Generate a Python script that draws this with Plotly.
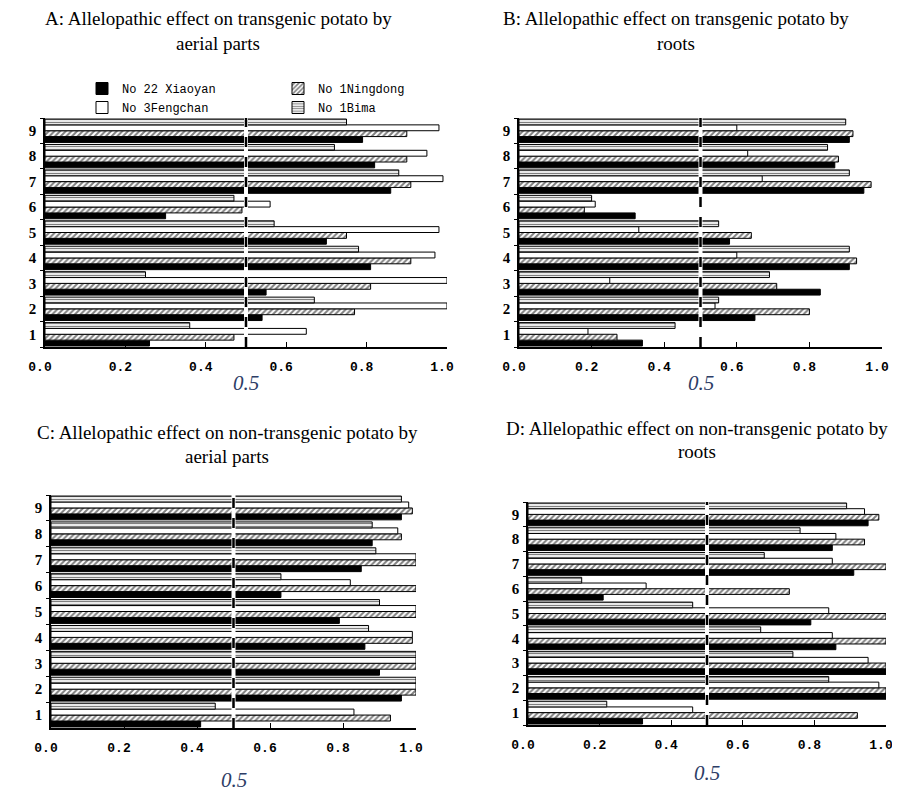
import plotly.graph_objects as go

categories = ["1", "2", "3", "4", "5", "6", "7", "8", "9"]
series_names = ["No 22 Xiaoyan", "No 1Ningdong", "No 3Fengchan", "No 1Bima"]
tick_values = [0.0, 0.2, 0.4, 0.6, 0.8, 1.0]

# Panel A: transgenic potato, aerial parts
a_xiaoyan = [0.26, 0.54, 0.55, 0.81, 0.70, 0.30, 0.86, 0.82, 0.79]
a_ningdong = [0.47, 0.77, 0.81, 0.91, 0.75, 0.49, 0.91, 0.90, 0.90]
a_fengchan = [0.65, 1.00, 1.00, 0.97, 0.98, 0.56, 0.99, 0.95, 0.98]
a_bima = [0.36, 0.67, 0.25, 0.78, 0.57, 0.47, 0.88, 0.72, 0.75]

# Panel B: transgenic potato, roots
b_xiaoyan = [0.34, 0.65, 0.83, 0.91, 0.58, 0.32, 0.95, 0.87, 0.91]
b_ningdong = [0.27, 0.80, 0.71, 0.93, 0.64, 0.18, 0.97, 0.88, 0.92]
b_fengchan = [0.19, 0.54, 0.25, 0.60, 0.33, 0.21, 0.67, 0.63, 0.60]
b_bima = [0.43, 0.55, 0.69, 0.91, 0.55, 0.20, 0.91, 0.85, 0.90]

# Panel C: non-transgenic potato, aerial parts
c_xiaoyan = [0.41, 0.96, 0.90, 0.86, 0.79, 0.63, 0.85, 0.88, 0.96]
c_ningdong = [0.93, 1.00, 1.00, 0.99, 1.00, 1.00, 1.00, 0.96, 0.99]
c_fengchan = [0.83, 1.00, 1.00, 0.99, 1.00, 0.82, 1.00, 0.95, 0.98]
c_bima = [0.45, 1.00, 1.00, 0.87, 0.90, 0.63, 0.89, 0.88, 0.96]

# Panel D: non-transgenic potato, roots
d_xiaoyan = [0.32, 1.00, 1.00, 0.86, 0.79, 0.21, 0.91, 0.85, 0.95]
d_ningdong = [0.92, 1.00, 1.00, 1.00, 1.00, 0.73, 1.00, 0.94, 0.98]
d_fengchan = [0.46, 0.98, 0.95, 0.85, 0.84, 0.33, 0.85, 0.86, 0.94]
d_bima = [0.22, 0.84, 0.74, 0.65, 0.46, 0.15, 0.66, 0.76, 0.89]

titles = [
    ("A: Allelopathic effect on transgenic potato by", "aerial parts"),
    ("B: Allelopathic effect on transgenic potato by", "roots"),
    ("C: Allelopathic effect on non-transgenic potato by", "aerial parts"),
    ("D: Allelopathic effect on non-transgenic potato by", "roots"),
]

W, H, OFF = 900, 792, 8  # page body margin shifts the figure by OFF px


def fx(px):
    return (px - OFF) / W


def fy(py):
    return 1 - (py - OFF) / H


panels = [
    dict(vals=[a_xiaoyan, a_ningdong, a_fengchan, a_bima], ax="", xd=[fx(45), fx(447)], yd=[fy(347), fy(118)]),
    dict(vals=[b_xiaoyan, b_ningdong, b_fengchan, b_bima], ax="2", xd=[fx(519), fx(882)], yd=[fy(347), fy(118)]),
    dict(vals=[c_xiaoyan, c_ningdong, c_fengchan, c_bima], ax="3", xd=[fx(51), fx(416)], yd=[fy(728), fy(495)]),
    dict(vals=[d_xiaoyan, d_ningdong, d_fengchan, d_bima], ax="4", xd=[fx(528), fx(886)], yd=[fy(725), fy(502)]),
]

styles = [
    dict(color="black", pattern=dict(shape="")),
    dict(color="white", pattern=dict(shape="/", fgcolor="black", bgcolor="white", size=4, solidity=0.5)),
    dict(color="white", pattern=dict(shape="")),
    dict(color="white", pattern=dict(shape="-", fgcolor="black", bgcolor="white", size=3, solidity=0.45)),
]
legend_of = ["legend", "legend2", "legend", "legend2"]

fig = go.Figure()
for pi, p in enumerate(panels):
    for si in range(4):
        st = styles[si]
        fig.add_trace(go.Bar(
            y=categories, x=p["vals"][si], orientation="h",
            name=series_names[si],
            marker=dict(color=st["color"], pattern=st["pattern"],
                        line=dict(color="black", width=1)),
            xaxis="x" + p["ax"], yaxis="y" + p["ax"],
            showlegend=(pi == 0), legend=legend_of[si],
        ))

legend_font = dict(family="Liberation Mono", size=12, color="black")
layout = dict(
    width=W, height=H, margin=dict(l=0, r=0, t=0, b=0, autoexpand=False),
    paper_bgcolor="white", plot_bgcolor="white",
    barmode="group", bargap=0.08, bargroupgap=0.0,
    legend=dict(x=fx(82), y=fy(74), xanchor="left", yanchor="top",
                font=legend_font, bgcolor="rgba(0,0,0,0)", tracegroupgap=0, itemwidth=30),
    legend2=dict(x=fx(278), y=fy(74), xanchor="left", yanchor="top",
                 font=legend_font, bgcolor="rgba(0,0,0,0)", tracegroupgap=0, itemwidth=30),
    showlegend=True,
)

annotations = []
shapes = []
title_pos = [(218, 18, 43), (676, 18, 43), (227, 432, 456), (697, 428, 452)]
half_label_y = [383, 383, 780, 773]
for pi, p in enumerate(panels):
    ax = p["ax"]
    layout["xaxis" + ax] = dict(
        domain=p["xd"], anchor="y" + ax, range=[0, 1.0], automargin=False,
        tickvals=tick_values, tickformat=".1f",
        ticks="inside", ticklen=5, tickcolor="black",
        showline=True, linecolor="black", linewidth=1.5,
        showgrid=False, zeroline=False, ticklabelstandoff=7, ticklabelshift=-5,
        tickfont=dict(family="Liberation Mono", size=13, color="black", weight="bold"),
    )
    layout["yaxis" + ax] = dict(
        domain=p["yd"], anchor="x" + ax, type="category", automargin=False,
        categoryorder="array", categoryarray=categories,
        ticks="outside", ticklen=3, tickson="boundaries", tickcolor="black",
        showline=True, linecolor="black", linewidth=1.5,
        showgrid=False, zeroline=False, ticklabelstandoff=4,
        tickfont=dict(family="Liberation Serif", size=15, color="black", weight="bold"),
    )
    xref = "x" + ax
    shapes.append(dict(type="line", xref=xref, yref="y" + ax + " domain",
                       x0=0.5, x1=0.5, y0=0, y1=1,
                       line=dict(color="white", width=4), layer="above"))
    shapes.append(dict(type="line", xref=xref, yref="y" + ax + " domain",
                       x0=0.5, x1=0.5, y0=0, y1=1,
                       line=dict(color="black", width=2.5, dash="10px,10px"), layer="above"))
    annotations.append(dict(text="0.5", xref=xref, yref="paper", x=0.5,
                            y=fy(half_label_y[pi]), showarrow=False,
                            xanchor="center", yanchor="middle",
                            font=dict(family="Liberation Serif", size=21,
                                      color="#2d3d66", style="italic")))
    cx, y1, y2 = title_pos[pi]
    for line_text, ly in zip(titles[pi], (y1, y2)):
        annotations.append(dict(text=line_text, xref="paper", yref="paper",
                                x=fx(cx), y=fy(ly), showarrow=False,
                                xanchor="center", yanchor="middle",
                                font=dict(family="Liberation Serif", size=19, color="black")))

layout["annotations"] = annotations
layout["shapes"] = shapes
fig.update_layout(**layout)
fig.write_html("out.html")
